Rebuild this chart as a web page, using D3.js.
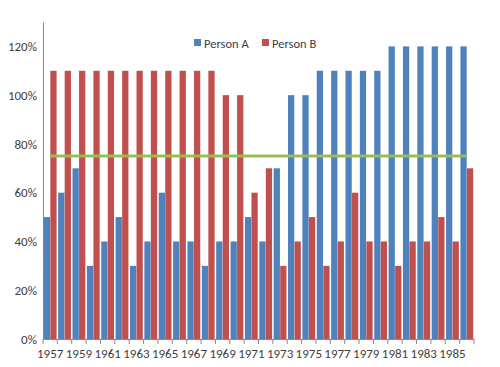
<!DOCTYPE html>
<html><head><meta charset="utf-8">
<script src="https://cdn.jsdelivr.net/npm/d3@7"></script>
<style>body{margin:0;background:#fff}text{font-family:Calibri,Carlito,"Liberation Sans",sans-serif}</style>
</head><body><svg id="c" width="500" height="367"></svg>
<script>
const years = d3.range(1957, 1987);
const personA = [50,60,70,30,40,50,30,40,60,40,40,30,40,40,50,40,70,100,100,110,110,110,110,110,120,120,120,120,120,120];
const personB = [110,110,110,110,110,110,110,110,110,110,110,110,100,100,60,70,30,40,50,30,40,60,40,40,30,40,40,50,40,70];
const target = 75;
const yTicks = [0,20,40,60,80,100,120];
const seriesNames = ["Person A","Person B"];
const colors = ["#4F81BD","#C0504D"];

(function(){
const svg = d3.select("#c");
const mL = 43, mR = 474, mT = 22, mB = 339;
const x = d3.scaleBand().domain(years).range([mL, mR]).paddingInner(0).paddingOuter(0);
const inner = d3.scaleBand().domain([0,1]).range([0, x.bandwidth()]).paddingOuter(0.12).paddingInner(0.04);
const y = d3.scaleLinear().domain([0,130]).range([mB, mT]);

const ya = svg.append("g").attr("transform",`translate(${mL},0)`)
  .call(d3.axisLeft(y).tickValues(yTicks).tickSize(0).tickPadding(6).tickFormat(d=>d+"%"));
ya.select(".domain").attr("stroke","#898989");
ya.selectAll("text").attr("fill","#404040").style("font-size","13px");

[personA, personB].forEach((vals, si) => {
  svg.append("g").selectAll("rect").data(vals).join("rect")
    .attr("x",(d,i)=>x(years[i])+inner(si))
    .attr("width",inner.bandwidth())
    .attr("y",d=>y(d))
    .attr("height",d=>y(0)-y(d))
    .attr("fill",colors[si]);
});

const line = d3.line().x(d=>x(d)+x.bandwidth()/2).y(()=>y(target));
svg.append("path").datum([years[0], years[years.length-1]])
  .attr("d",line).attr("stroke","#9BBB59").attr("stroke-width",3).attr("fill","none");

const xa = svg.append("g").attr("transform",`translate(0,${mB})`)
  .call(d3.axisBottom(x).tickSize(0).tickPadding(10).tickFormat((d,i)=> i%2===0 ? d : ""));
xa.select(".domain").attr("stroke","#898989");
xa.selectAll("text").attr("fill","#404040").style("font-size","13px");
svg.append("g").selectAll("line").data(d3.range(years.length+1)).join("line")
  .attr("x1",i=>mL+i*x.bandwidth()).attr("x2",i=>mL+i*x.bandwidth())
  .attr("y1",mB).attr("y2",mB+5).attr("stroke","#898989");

const lg = svg.append("g");
const lx = [194, 262];
seriesNames.forEach((n,i)=>{
  lg.append("rect").attr("x",lx[i]).attr("y",39).attr("width",7).attr("height",7).attr("fill",colors[i]);
  lg.append("text").attr("x",lx[i]+10).attr("y",47.5).text(n).attr("fill","#404040").style("font-size","12.5px");
});
})();
</script></body></html>
